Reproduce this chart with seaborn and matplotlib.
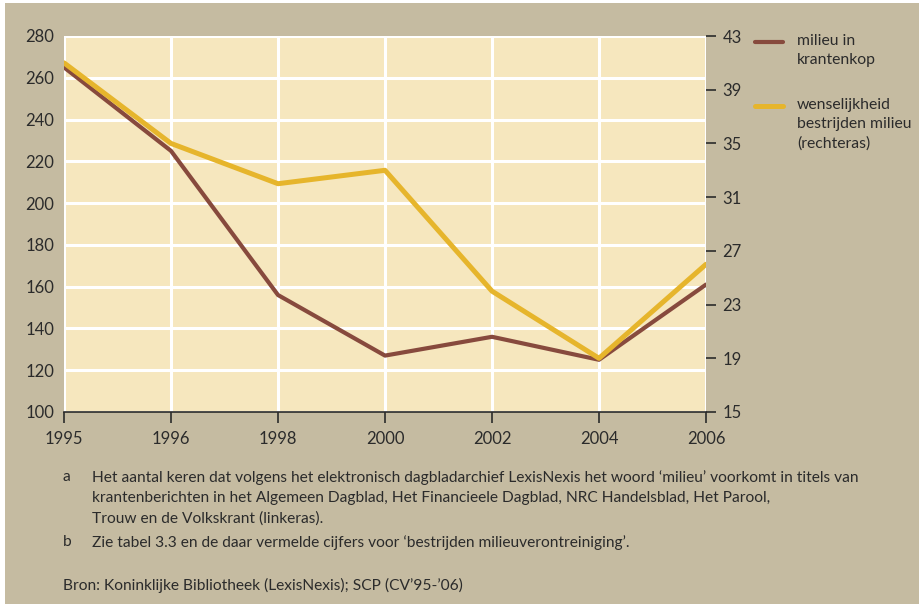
import seaborn as sns
import numpy as np
import pandas as pd
import matplotlib.pyplot as plt
from matplotlib.lines import Line2D
from matplotlib.patches import Rectangle

# data
years = ["1995", "1996", "1998", "2000", "2002", "2004", "2006"]
krantenkop = [265, 225, 156, 127, 136, 125, 161]          # left axis
wenselijkheid = [41.0, 35.0, 32.0, 33.0, 24.0, 19.0, 26.0]  # right axis
left_ticks = np.arange(100, 281, 20)
right_ticks = np.arange(15, 44, 4)

df = pd.DataFrame({"jaar": years, "krantenkop": krantenkop, "wenselijkheid": wenselijkheid})

TAN = "#c5bba1"
PANEL = "#f6e7be"
BROWN = "#874a3d"
YELLOW = "#e6b52c"
INK = "#2b2b2b"

sns.set_theme(style="white")
plt.rcParams["font.family"] = ["Lato", "DejaVu Sans"]
plt.rcParams["font.size"] = 12

fig = plt.figure(figsize=(9.2, 6.04), dpi=100, facecolor="white")
fig.add_artist(Rectangle((5 / 920, 0), 1, 1 - 3 / 604, transform=fig.transFigure,
                         facecolor=TAN, edgecolor="none", zorder=-10))

ax = fig.add_axes([64 / 920, 1 - 412 / 604, 642 / 920, 376 / 604])
ax.set_facecolor(PANEL)
ax2 = ax.twinx()

sns.lineplot(data=df, x="jaar", y="krantenkop", ax=ax, color=BROWN, lw=3, zorder=3)
sns.lineplot(data=df, x="jaar", y="wenselijkheid", ax=ax2, color=YELLOW, lw=3.6, zorder=3)

ax.set_xlim(0, len(years) - 1)
ax.set_ylim(100, 280)
ax.set_yticks(left_ticks)
ax2.set_ylim(15, 43)
ax2.set_yticks(right_ticks)

ax.grid(True, color="white", lw=2.2)
ax.set_axisbelow(True)
for a in (ax, ax2):
    a.set_xlabel("")
    a.set_ylabel("")
    for s in ("top", "left", "right"):
        a.spines[s].set_visible(False)
ax.spines["bottom"].set_color(INK)
ax.spines["bottom"].set_linewidth(1.2)
ax2.spines["bottom"].set_visible(False)

ax.tick_params(axis="x", bottom=True, length=8, width=1.2, color=INK, labelcolor=INK,
               labelsize=12, pad=6)
ax.tick_params(axis="y", left=False, length=0, labelcolor=INK, labelsize=12, pad=7)
ax2.tick_params(axis="y", right=True, length=7, width=1.2, color=INK, labelcolor=INK,
                labelsize=12, pad=5)

# legend (drawn by hand so the key sits at the first label line)
fig.add_artist(Line2D([755 / 920, 783 / 920], [1 - 42 / 604] * 2, color=BROWN, lw=3,
                      transform=fig.transFigure))
fig.add_artist(Line2D([755 / 920, 783 / 920], [1 - 106 / 604] * 2, color=YELLOW, lw=3.6,
                      transform=fig.transFigure))
fig.text(797 / 920, 1 - 34 / 604, "milieu in\nkrantenkop", va="top", ha="left",
         fontsize=11.3, color=INK, linespacing=1.45)
fig.text(797 / 920, 1 - 98 / 604, "wenselijkheid\nbestrijden milieu\n(rechteras)",
         va="top", ha="left", fontsize=11.3, color=INK, linespacing=1.45)

# notes
notes = [
    ("a", "Het aantal keren dat volgens het elektronisch dagbladarchief LexisNexis het woord \u2018milieu\u2019 voorkomt in titels van\n"
          "krantenberichten in het Algemeen Dagblad, Het Financieele Dagblad, NRC Handelsblad, Het Parool,\n"
          "Trouw en de Volkskrant (linkeras).", 470),
    ("b", "Zie tabel 3.3 en de daar vermelde cijfers voor \u2018bestrijden milieuverontreiniging\u2019.", 535),
]
for letter, txt, ytop in notes:
    fig.text(63 / 920, 1 - ytop / 604, letter, va="top", ha="left", fontsize=11.2, color=INK)
    fig.text(92 / 920, 1 - ytop / 604, txt, va="top", ha="left", fontsize=11.2, color=INK,
             linespacing=1.55)
fig.text(63 / 920, 1 - 578 / 604, "Bron: Koninklijke Bibliotheek (LexisNexis); SCP (CV\u201995-\u201906)",
         va="top", ha="left", fontsize=11.2, color=INK)

fig.savefig("out.png", dpi=100, facecolor=fig.get_facecolor())
